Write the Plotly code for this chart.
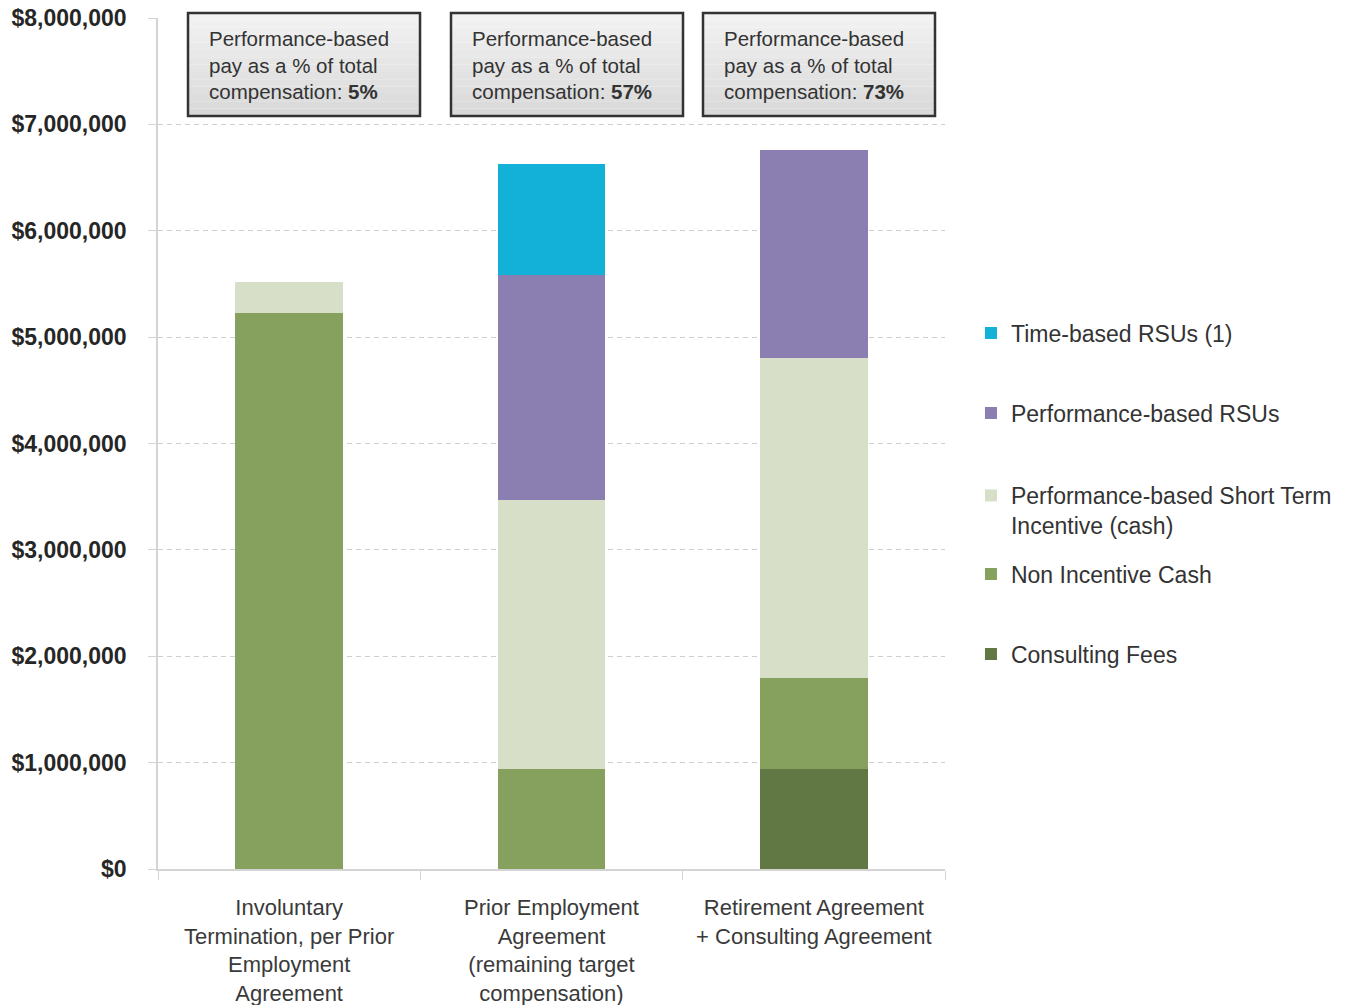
import plotly.graph_objects as go

# ---- data ----
categories = [
    "Involuntary<br>Termination, per Prior<br>Employment<br>Agreement",
    "Prior Employment<br>Agreement<br>(remaining target<br>compensation)",
    "Retirement Agreement<br>+ Consulting Agreement",
]
consulting_fees = [0, 0, 940000]
non_incentive_cash = [5226000, 940000, 855000]
sti_cash = [291000, 2528000, 3008000]
perf_rsus = [0, 2115000, 1955000]
time_rsus = [0, 1043000, 0]
perf_pct = ["5%", "57%", "73%"]
y_tick_vals = [0, 1000000, 2000000, 3000000, 4000000, 5000000, 6000000, 7000000, 8000000]
y_tick_text = ["$" + f"{v:,}" for v in y_tick_vals]

FONT = "Liberation Sans, Arial, sans-serif"

series = [
    ("Consulting Fees", consulting_fees, "#617845", "legend5"),
    ("Non Incentive Cash", non_incentive_cash, "#86A05E", "legend4"),
    ("Performance-based Short Term<br>Incentive (cash)", sti_cash, "#D7DFC9", "legend3"),
    ("Performance-based RSUs", perf_rsus, "#8A7FB0", "legend2"),
    ("Time-based RSUs (1)", time_rsus, "#13B0D8", "legend"),
]

fig = go.Figure()
for name, vals, color, leg in series:
    fig.add_trace(go.Bar(
        x=categories, y=vals, name=name,
        marker=dict(color=color, line=dict(width=0)),
        legend=leg,
    ))

# legends, one per entry so their spacing follows the reference
legend_pos = {
    "legend": 0.6298,
    "legend2": 0.5358,
    "legend3": 0.4213,
    "legend4": 0.3466,
    "legend5": 0.2526,
}
legend_common = dict(
    x=1.033, xanchor="left", yanchor="middle",
    font=dict(family=FONT, size=23, color="#333333"),
    bgcolor="rgba(0,0,0,0)", valign="top",
)
layout_legends = {k: dict(y=v, **legend_common) for k, v in legend_pos.items()}

fig.update_layout(
    barmode="stack",
    bargap=0.59,
    width=1361, height=1005,
    margin=dict(l=158, r=416, t=18, b=136, autoexpand=False),
    plot_bgcolor="white", paper_bgcolor="white",
    font=dict(family=FONT, color="#333333"),
    showlegend=True,
    **layout_legends,
)

fig.update_yaxes(
    range=[0, 8000000],
    tickmode="array", tickvals=y_tick_vals, ticktext=y_tick_text,
    tickfont=dict(family=FONT, size=23, color="#262626", weight="bold"),
    showgrid=True, gridcolor="#cfcfcf", griddash="5px,4px", gridwidth=1,
    showline=True, linecolor="#d4d4d4", linewidth=1.5,
    ticks="outside", ticklen=8, tickcolor="#d4d4d4",
    ticklabelstandoff=17,
    zeroline=False, automargin=False,
)
fig.update_xaxes(
    type="category",
    range=[-0.5, 2.5],
    tickfont=dict(family=FONT, size=22, color="#3a3a3a"),
    showline=True, linecolor="#d4d4d4", linewidth=1.5,
    ticks="outside", ticklen=9, tickcolor="#d4d4d4", tickson="boundaries",
    ticklabelstandoff=18, automargin=False,
)

# ---- header boxes with a vertical gray gradient ----
box_x = [(-0.3856, 0.4988), (0.6169, 1.5013), (1.5775, 2.4619)]
y_top, y_bot = 1.00588, 0.8848
n_strips = 14
c_top, c_bot = 243, 216
for (x0, x1), pct in zip(box_x, perf_pct):
    for i in range(n_strips):
        ya = y_top - (y_top - y_bot) * i / n_strips
        yb = y_top - (y_top - y_bot) * (i + 1) / n_strips
        c = int(round(c_top + (c_bot - c_top) * (i + 0.5) / n_strips))
        fig.add_shape(type="rect", xref="x", yref="paper",
                      x0=x0, x1=x1, y0=yb, y1=ya,
                      fillcolor=f"rgb({c},{c},{c})", line=dict(width=0), layer="above")
    fig.add_shape(type="rect", xref="x", yref="paper",
                  x0=x0, x1=x1, y0=y_bot, y1=y_top,
                  fillcolor="rgba(0,0,0,0)", line=dict(color="#333333", width=2.5),
                  layer="above")
    fig.add_annotation(
        xref="x", yref="paper", x=x0, y=(y_top + y_bot) / 2,
        xanchor="left", yanchor="middle", xshift=19, align="left",
        showarrow=False,
        text=f"Performance-based<br>pay as a % of total<br>compensation: <b>{pct}</b>",
        font=dict(family=FONT, size=20.5, color="#333333"),
    )

fig.write_html(
    "out.html",
    config={"displayModeBar": False},
    post_script="document.body.style.margin='0';document.body.style.overflow='hidden';",
)
